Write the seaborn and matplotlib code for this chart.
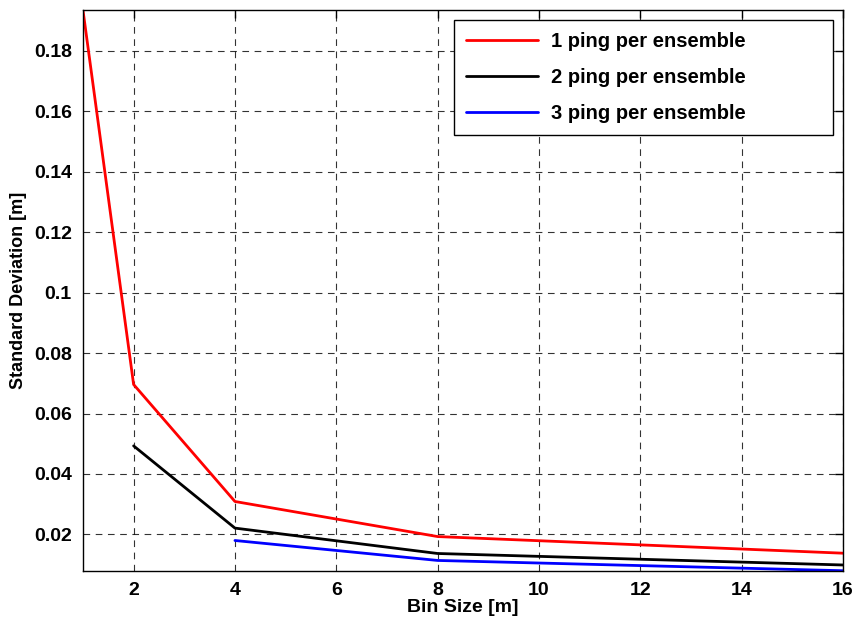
import matplotlib
matplotlib.use("Agg")
import matplotlib.pyplot as plt
import seaborn as sns
import pandas as pd

# Data
x_1ping = [1, 2, 4, 8, 16]
y_1ping = [0.1935, 0.0696, 0.0309, 0.0193, 0.0138]
x_2ping = [2, 4, 8, 16]
y_2ping = [0.0493, 0.0221, 0.0137, 0.0099]
x_3ping = [4, 8, 16]
y_3ping = [0.0180, 0.0114, 0.0080]
series_names = ["1 ping per ensemble", "2 ping per ensemble", "3 ping per ensemble"]
x_ticks = [2, 4, 6, 8, 10, 12, 14, 16]
y_ticks = [0.02, 0.04, 0.06, 0.08, 0.1, 0.12, 0.14, 0.16, 0.18]
y_tick_labels = ["0.02", "0.04", "0.06", "0.08", "0.1", "0.12", "0.14", "0.16", "0.18"]

df = pd.concat([
    pd.DataFrame({"x": x_1ping, "y": y_1ping, "series": series_names[0]}),
    pd.DataFrame({"x": x_2ping, "y": y_2ping, "series": series_names[1]}),
    pd.DataFrame({"x": x_3ping, "y": y_3ping, "series": series_names[2]}),
])

sns.set_style("white")
plt.rcParams["font.family"] = ["Liberation Sans", "DejaVu Sans"]
plt.rcParams["font.weight"] = "bold"
plt.rcParams["text.color"] = "black"
plt.rcParams["axes.labelcolor"] = "black"
plt.rcParams["xtick.color"] = "black"
plt.rcParams["ytick.color"] = "black"

fig = plt.figure(figsize=(8.55, 6.18), dpi=100)
ax = fig.add_axes([0.097, 0.076, 0.889, 0.908])

palette = {series_names[0]: "#ff0000", series_names[1]: "#000000", series_names[2]: "#0000ff"}
sns.lineplot(data=df, x="x", y="y", hue="series", palette=palette, linewidth=2,
             ax=ax, legend=True, estimator=None, sort=False)

ax.set_xlim(1, 16)
ax.set_ylim(0.0079, 0.1935)
ax.set_xticks(x_ticks)
ax.set_yticks(y_ticks)
ax.set_yticklabels(y_tick_labels)
ax.tick_params(axis="both", which="both", direction="in", top=True, right=True,
               length=6, width=1, labelsize=14, pad=8, color="black",
               labelcolor="black")
for lab in ax.get_xticklabels() + ax.get_yticklabels():
    lab.set_fontweight("bold")

ax.grid(True, color="black", linestyle=(0, (6, 5)), linewidth=0.8, alpha=0.8)
for s in ax.spines.values():
    s.set_color("black")
    s.set_linewidth(1)

ax.set_xlabel("Bin Size [m]", fontsize=14, fontweight="bold", labelpad=0, color="black")
ax.set_ylabel("Standard Deviation [m]", fontsize=13, fontweight="bold", labelpad=5, color="black")

leg = ax.legend(loc="upper left", bbox_to_anchor=(0.488, 0.0, 0.499, 0.982),
                mode="expand", fontsize=14.5, frameon=True, fancybox=False,
                edgecolor="black", framealpha=1, handlelength=3.6, borderpad=0.6,
                labelspacing=0.85, handletextpad=0.6, borderaxespad=0)
leg.get_frame().set_linewidth(1)
for t in leg.get_texts():
    t.set_fontweight("bold")
    t.set_color("black")

fig.savefig("out.png", dpi=100)
